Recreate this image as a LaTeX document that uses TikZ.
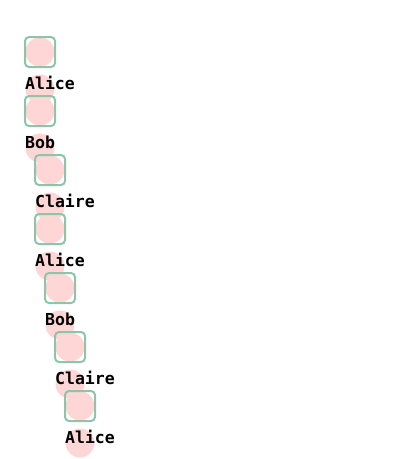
\documentclass[tikz,border=0pt]{standalone}
\usepackage{fontspec}
\setmonofont{DejaVu Sans Mono}
\usetikzlibrary{positioning}
\definecolor{boxgreen}{RGB}{143,196,168}
\definecolor{dotpink}{RGB}{255,214,214}
\tikzset{%
	every box/.style={
		draw=boxgreen,
		line width=2pt,
		rounded corners=4pt,
		minimum size=30pt,
		inner sep=0pt
	},
	every dot/.style={
		circle,
		fill=dotpink,
		minimum size=29pt,
		inner sep=0pt
	},
	every tag/.style={
		anchor=base west,
		inner sep=0pt,
		font=\ttfamily\bfseries\fontsize{16.5}{16.5}\selectfont
	},
}

\begin{document}
\begin{tikzpicture}[x=1pt, y=-1pt]
			\useasboundingbox (0,0) rectangle (400,459);
			% Define the distance between two rows
			\newcommand{\rowStep}{59}
			
			% Loop through the names: square, its dot, the dot under the name, the name
			\foreach \name/\shift [count=\i] in {Alice/0, Bob/0, Claire/10, Alice/10, Bob/20, Claire/30, Alice/40} {
				\node[every dot] (spot\i) at (40+\shift, 89+\rowStep*\i-\rowStep) {};
				\node[every dot] (fill\i) at (40+\shift, 52+\rowStep*\i-\rowStep) {};
				\node[every box] (box\i) at (fill\i) {};
				\node[every tag] (tag\i) at (25+\shift, 89+\rowStep*\i-\rowStep) {\name};
			}
		\end{tikzpicture}
\end{document}
